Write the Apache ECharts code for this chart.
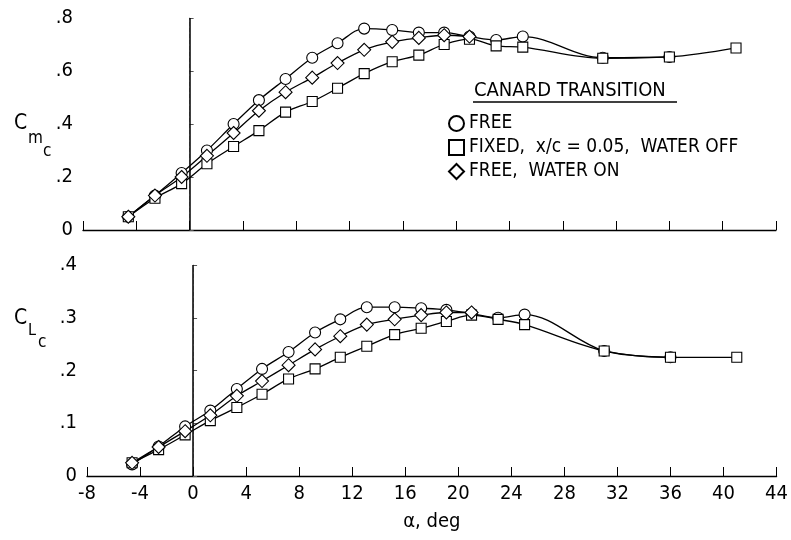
<!DOCTYPE html>
<html>
<head>
<meta charset="utf-8">
<script src="https://cdn.jsdelivr.net/npm/echarts@6/dist/echarts.min.js"></script>
<style>
  html, body { margin: 0; padding: 0; background: #fff; }
  #chart { width: 791px; height: 540px; }
</style>
</head>
<body>
<div id="chart"></div>
<script>
// angle of attack, deg (test points)
var alphaFree  = [-4.6, -2.6, -0.6, 1.3, 3.3, 5.2, 7.2, 9.2, 11.1, 13.1, 15.2, 17.2, 19.1, 21.0, 23.0, 25.0, 31.0, 36.0];
var alphaFixed = [-4.6, -2.6, -0.6, 1.3, 3.3, 5.2, 7.2, 9.2, 11.1, 13.1, 15.2, 17.2, 19.1, 21.0, 23.0, 25.0, 31.0, 36.0, 41.0];
var alphaWater = [-4.6, -2.6, -0.6, 1.3, 3.3, 5.2, 7.2, 9.2, 11.1, 13.1, 15.2, 17.2, 19.1, 21.0];

// Cm_c
var cmFree  = [0.05, 0.13, 0.215, 0.30, 0.40, 0.49, 0.57, 0.65, 0.705, 0.76, 0.755, 0.745, 0.745, 0.73, 0.717, 0.73, 0.65, 0.653];
var cmFixed = [0.05, 0.12, 0.175, 0.25, 0.315, 0.375, 0.445, 0.485, 0.535, 0.59, 0.635, 0.66, 0.70, 0.72, 0.695, 0.69, 0.648, 0.653, 0.687];
var cmWater = [0.05, 0.13, 0.20, 0.28, 0.366, 0.45, 0.52, 0.575, 0.63, 0.68, 0.71, 0.725, 0.735, 0.73];

// CL_c
var clFree  = [0.022, 0.056, 0.094, 0.124, 0.165, 0.203, 0.235, 0.272, 0.297, 0.32, 0.32, 0.318, 0.315, 0.308, 0.30, 0.306, 0.237, 0.225];
var clFixed = [0.025, 0.05, 0.078, 0.105, 0.13, 0.155, 0.184, 0.203, 0.225, 0.246, 0.268, 0.28, 0.293, 0.305, 0.297, 0.287, 0.237, 0.225, 0.225];
var clWater = [0.025, 0.055, 0.085, 0.115, 0.152, 0.18, 0.21, 0.24, 0.265, 0.287, 0.297, 0.305, 0.31, 0.31];

var xTicks = [-8, -4, 0, 4, 8, 12, 16, 20, 24, 28, 32, 36, 40, 44];
var names = ['FREE', 'FIXED,  x/c = 0.05,  WATER OFF', 'FREE,  WATER ON'];

var FONT = "'Liberation Sans Narrow', 'DejaVu Sans Condensed', 'Liberation Sans', sans-serif";

var zip = function(xs, ys){
    return xs.map(function(x, i){ return [x, ys[i]]; });
};

var yFmt = function(v){
    if (v === 0) return '0';
    return '.' + Math.round(v * 10);
};

var xAxisBase = function(idx, showLabels){
    return {
        type: 'value', gridIndex: idx, min: -8, max: 44, interval: 4,
        axisLine: { lineStyle: { color: '#000', width: 1.3 } },
        axisTick: { inside: true, length: 9, lineStyle: { color: '#000' } },
        splitLine: { show: false },
        axisLabel: { show: showLabels, color: '#000', fontSize: 20, fontFamily: FONT, margin: 8,
            formatter: function(v){ return xTicks.indexOf(v) >= 0 ? String(v) : ''; } }
    };
};

var yAxisBase = function(idx, max, step){
    return {
        type: 'value', gridIndex: idx, min: 0, max: max, interval: step,
        axisLine: { show: true, lineStyle: { color: '#aaa', type: 'dashed', width: 1 } },
        axisTick: { inside: true, length: 4, lineStyle: { color: '#555' } },
        splitLine: { show: false },
        axisLabel: { color: '#000', fontSize: 20, fontFamily: FONT, margin: 10, formatter: yFmt }
    };
};

var mkSeries = function(name, idx, pts, symbol, size, zeroLine){
    var s = {
        name: name, type: 'line', xAxisIndex: idx, yAxisIndex: idx,
        data: pts, smooth: 0.35,
        symbol: symbol, symbolSize: size,
        lineStyle: { color: '#000', width: 1.3 },
        itemStyle: { color: '#fff', borderColor: '#000', borderWidth: 1.1 },
        z: 3
    };
    if (zeroLine) {
        s.markLine = {
            silent: true, symbol: 'none', label: { show: false },
            lineStyle: { color: '#000', width: 1.5, type: 'solid' },
            data: [{ xAxis: 0 }]
        };
    }
    return s;
};

var chart = echarts.init(document.getElementById('chart'));
chart.setOption({
    backgroundColor: '#fff',
    animation: false,
    grid: [
        { left: 83, right: 15, top: 18, height: 212 },
        { left: 87, right: 13, top: 265, height: 211 }
    ],
    xAxis: [
        xAxisBase(0, false),
        Object.assign(xAxisBase(1, true), {
            name: 'α, deg', nameLocation: 'middle', nameGap: 36,
            nameTextStyle: { color: '#000', fontSize: 20, fontFamily: FONT }
        })
    ],
    yAxis: [
        yAxisBase(0, 0.8, 0.2),
        yAxisBase(1, 0.4, 0.1)
    ],
    legend: {
        orient: 'vertical', left: 443, top: 109,
        itemWidth: 15, itemHeight: 15, itemGap: 5,
        textStyle: { color: '#000', fontSize: 19, fontFamily: FONT, padding: [0, 0, 0, 0] },
        data: [
            { name: names[0], icon: 'circle' },
            { name: names[1], icon: 'rect' },
            { name: names[2], icon: 'diamond' }
        ]
    },
    graphic: [
        { type: 'text', left: 474, top: 81, style: { text: 'CANARD TRANSITION', fill: '#000', fontSize: 20, fontFamily: FONT } },
        { type: 'line', shape: { x1: 473, y1: 102, x2: 677, y2: 102 }, style: { stroke: '#000', lineWidth: 1.3 } },
        { type: 'text', left: 14, top: 113, style: { text: 'C', fill: '#000', fontSize: 21, fontFamily: FONT } },
        { type: 'text', left: 28, top: 130, style: { text: 'm', fill: '#000', fontSize: 17, fontFamily: FONT } },
        { type: 'text', left: 43, top: 143, style: { text: 'c', fill: '#000', fontSize: 17, fontFamily: FONT } },
        { type: 'text', left: 14, top: 308, style: { text: 'C', fill: '#000', fontSize: 21, fontFamily: FONT } },
        { type: 'text', left: 28, top: 323, style: { text: 'L', fill: '#000', fontSize: 16, fontFamily: FONT } },
        { type: 'text', left: 38, top: 334, style: { text: 'c', fill: '#000', fontSize: 17, fontFamily: FONT } }
    ],
    series: [
        mkSeries(names[0], 0, zip(alphaFree, cmFree), 'circle', 11, true),
        mkSeries(names[1], 0, zip(alphaFixed, cmFixed), 'rect', 10, false),
        mkSeries(names[2], 0, zip(alphaWater, cmWater), 'diamond', 13, false),
        mkSeries(names[0], 1, zip(alphaFree, clFree), 'circle', 11, true),
        mkSeries(names[1], 1, zip(alphaFixed, clFixed), 'rect', 10, false),
        mkSeries(names[2], 1, zip(alphaWater, clWater), 'diamond', 13, false)
    ]
});
</script>
</body>
</html>
